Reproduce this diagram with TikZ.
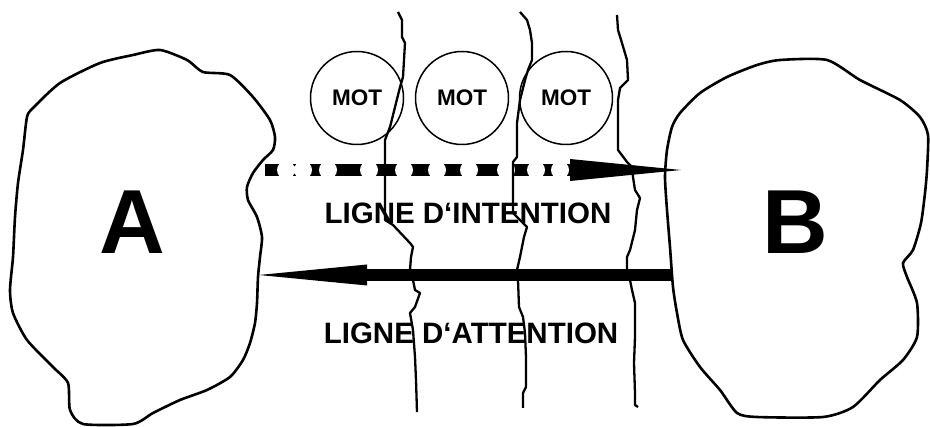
\documentclass[tikz,border=0pt]{standalone}
\usepackage{fontspec}
\setmainfont{Liberation Sans}
\usetikzlibrary{positioning,arrows.meta}

\tikzset{
  blob/.style={line width=2.6pt,line join=round},
  crack/.style={line width=2.3pt,line join=round},
  mot/.style={circle,draw,line width=1.5pt,minimum size=93pt,inner sep=0pt,
    font=\fontsize{22.5}{22.5}\selectfont\bfseries},
  bigletter/.style={font=\fontsize{91}{91}\selectfont\bfseries},
  linelabel/.style={font=\fontsize{29.5}{30}\selectfont\bfseries},
  thickline/.style={line width=12pt},
}

\begin{document}
\begin{tikzpicture}[x=1pt,y=-1pt]
  \useasboundingbox (0,0) rectangle (930,427);

  \draw[blob] plot[smooth cycle,tension=0.4] coordinates {(160,50) (187,60) (203,72) (230,75) (253,97) (270,120) (275,137) (273,150) (263,160) (253,173) (247,187) (248,200) (257,217) (262,237) (260,257) (258,277) (257,303) (255,323) (250,343) (243,360) (230,377) (207,390) (180,400) (153,413) (133,424) (83,424) (70,410) (68,383) (53,367) (27,340) (13,313) (10,290) (13,257) (15,217) (18,183) (23,150) (27,117) (33,108) (60,83) (100,63) (133,55)};
  \draw[blob] plot[smooth cycle,tension=0.4] coordinates {(780,60) (827,60) (860,80) (900,100) (920,117) (928,135) (927,170) (925,193) (921,223) (913,250) (903,263) (907,277) (917,303) (917,337) (903,360) (880,380) (853,407) (823,417) (757,417) (737,413) (720,390) (700,367) (683,340) (677,313) (673,287) (670,247) (667,210) (665,177) (667,150) (672,127) (680,113) (700,93) (727,77) (757,65)};

  \node[bigletter] (A) at (132,222) {A};
  \node[bigletter] (B) at (795,222) {B};

  \node[mot] (mot1) at (357,98) {MOT};
  \node[mot] (mot2) at (462,98) {MOT};
  \node[mot] (mot3) at (566,98) {MOT};

  \coordinate (intA) at (265,170);
  \coordinate (intB) at (681,170);
  \coordinate (attB) at (673,275);
  \coordinate (attA) at (259,275);

  \draw[thickline,-{Triangle[length=111pt,width=22pt,line width=0pt]}] (intA) -- (intB);
  \fill[white] (286,170) circle (9) (303,170) circle (9) (328,170) circle (9) (369,170) circle (9) (404,170) circle (9)
    (437,170) circle (9) (469,170) circle (9) (506,170) circle (9) (536,170) circle (9) (560,170) circle (9);
  \draw[thickline,-{Triangle[length=108pt,width=21pt,line width=0pt]}] (attB) -- (attA);

  \node[linelabel] (intention) at (468,213) {LIGNE D‘INTENTION};
  \node[linelabel] (attention) at (471,333) {LIGNE D‘ATTENTION};

  \draw[crack] plot coordinates {(398,12) (402,20) (402,37) (405,43) (403,77) (400,87) (390,127) (385,140) (385,220) (393,225) (410,243) (413,247) (411,257) (410,270) (413,280) (415,290) (420,293) (415,307) (410,313) (413,330) (415,357) (416,380) (417,412)};
  \draw[crack] plot coordinates {(520,12) (527,20) (530,30) (532,43) (532,60) (528,70) (525,80) (520,100) (517,123) (517,157) (513,162) (513,213) (520,220) (527,227) (524,237) (520,257) (517,270) (518,280) (519,307) (523,317) (525,333) (526,357) (526,387) (523,393) (523,408)};
  \draw[crack] plot coordinates {(617,15) (618,30) (622,43) (627,60) (628,80) (620,88) (618,100) (618,150) (627,162) (632,167) (633,177) (635,190) (640,198) (637,210) (635,230) (630,250) (627,257) (627,270) (630,280) (632,290) (635,303) (635,337) (634,363) (635,393) (635,405) (638,407)};
\end{tikzpicture}
\end{document}
